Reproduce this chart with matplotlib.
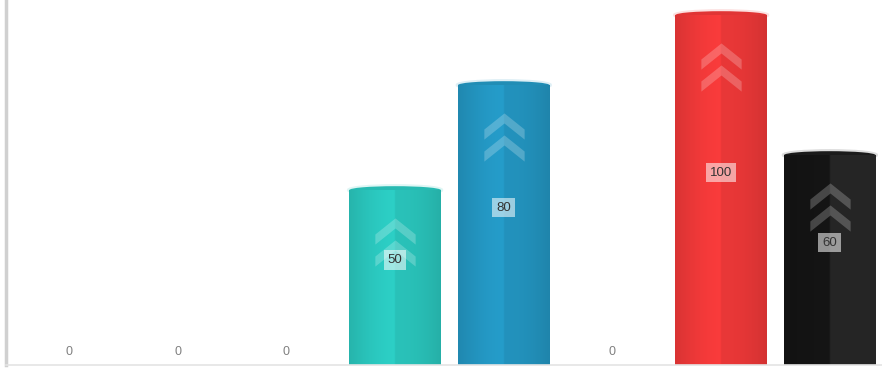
import numpy as np
import matplotlib
matplotlib.use("Agg")
import matplotlib.pyplot as plt
from matplotlib.patches import Ellipse
from matplotlib.path import Path
from matplotlib.transforms import ScaledTranslation
import matplotlib.colors as mcolors

plt.rcParams["font.family"] = ["Liberation Sans", "DejaVu Sans"]

categories = ["A", "B", "C", "D", "E", "F", "G", "H"]
values = [0, 0, 0, 50, 80, 0, 100, 60]
colors = ["#2cc6bd", "#2cc6bd", "#2cc6bd", "#2ac4bb", "#2394bf", "#2595bf", "#ec3838", "#1c1c1c"]

fig = plt.figure(figsize=(8.82, 3.68), dpi=100)
ax = fig.add_axes([6 / 882, 3 / 368, 876 / 882, 365 / 368])
x = np.arange(len(categories))
bars = ax.bar(x, values, width=0.84, color=colors, zorder=2, linewidth=0)

ax.set_xlim(-0.58, 7.48)
ax.set_ylim(0, 104.3)
ax.set_xticks([])
ax.set_yticks([])
for s in ["top", "right"]:
    ax.spines[s].set_visible(False)
ax.spines["left"].set_color("#d0d0d0")
ax.spines["left"].set_linewidth(2.5)
ax.spines["bottom"].set_color("#e4e4e4")
ax.spines["bottom"].set_linewidth(1.2)

# chevron marker
chev = Path([(-1, -0.25), (0, 0.55), (1, -0.25), (1, -0.75), (0, 0.05), (-1, -0.75), (-1, -0.25)],
            [Path.MOVETO] + [Path.LINETO] * 5 + [Path.CLOSEPOLY])

for i, (b, v, c) in enumerate(zip(bars, values, colors)):
    cx = b.get_x() + b.get_width() / 2
    if v == 0:
        ax.text(cx, 3.7, "0", ha="center", va="center", fontsize=9, color="#808080", zorder=5)
        continue
    base = np.array(mcolors.to_rgb(c))
    t = np.linspace(0, 1, 200)
    if c == "#1c1c1c":
        shade = np.where(t < 0.5, 0.65 + 0.2 * t, 1.35)
    else:
        shade = 0.92 + 0.14 * np.sin(np.pi * t * 0.9)
        shade = np.where(t > 0.5, shade * 0.93, shade)
    grad = np.clip(base[None, :] * shade[:, None], 0, 1)[None, :, :]
    im = ax.imshow(grad, extent=[b.get_x(), b.get_x() + b.get_width(), 0, v],
                   aspect="auto", zorder=2.5, interpolation="bicubic")
    im.set_clip_path(b)
    cap = Ellipse((cx, v), b.get_width(), 2.2, facecolor=mcolors.to_hex(base * 0.95), edgecolor="none", zorder=2.4)
    ax.add_patch(cap)
    glow = Ellipse((cx, v), b.get_width() + 0.02, 2.6, facecolor="none", edgecolor=c, alpha=0.15, lw=2, zorder=2.3)
    ax.add_patch(glow)
    for dy in [39, 61]:
        tr = ax.transData + ScaledTranslation(0, -dy / 100, fig.dpi_scale_trans)
        ax.plot([cx], [v], marker=chev, markersize=29, color="white", alpha=0.22,
                markeredgewidth=0, transform=tr, zorder=3)
    ax.text(cx, v / 2 + 5, str(v), ha="center", va="center", fontsize=9.5, color="#333333", zorder=5,
            bbox=dict(boxstyle="square,pad=0.3", facecolor="white", alpha=0.55, edgecolor="none"))

fig.savefig("out.png", dpi=100)
